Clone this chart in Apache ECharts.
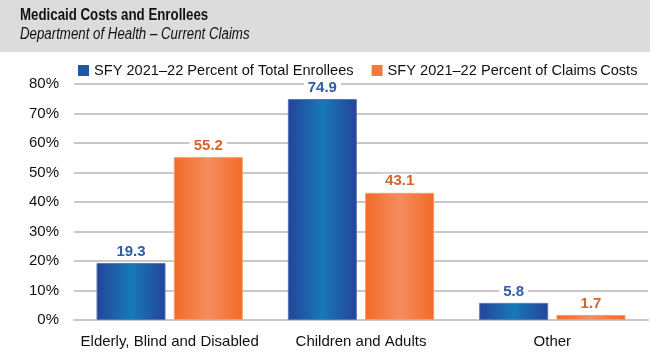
<!DOCTYPE html>
<html><head><meta charset="utf-8">
<script src="https://cdn.jsdelivr.net/npm/echarts@6/dist/echarts.min.js"></script>
<style>html,body{margin:0;padding:0;background:#fff}#c{width:650px;height:358px}</style>
</head><body><div id="c"></div>
<script>
const categories = ['Elderly, Blind and Disabled', 'Children and Adults', 'Other'];
const enrollees = [19.3, 74.9, 5.8];
const claims = [55.2, 43.1, 1.7];
const seriesNames = ['SFY 2021\u201322 Percent of Total Enrollees', 'SFY 2021\u201322 Percent of Claims Costs'];

const blueGrad = new echarts.graphic.LinearGradient(0, 0, 1, 0, [
  {offset: 0, color: '#24449a'}, {offset: 0.5, color: '#1779b8'}, {offset: 1, color: '#24449a'}]);
const orangeGrad = new echarts.graphic.LinearGradient(0, 0, 1, 0, [
  {offset: 0, color: '#f26a27'}, {offset: 0.5, color: '#f58d5e'}, {offset: 1, color: '#f26a27'}]);

const chart = echarts.init(document.getElementById('c'));
chart.setOption({
  animation: false,
  backgroundColor: '#fff',
  textStyle: {fontFamily: 'Liberation Sans, Arial, sans-serif'},
  graphic: [
    {type: 'rect', left: 0, top: 0, shape: {width: 650, height: 52}, style: {fill: '#dcdcdc'}, z: -1},
    {type: 'text', x: 20, y: 8, scaleX: 0.83, style: {text: 'Medicaid Costs and Enrollees', font: 'bold 16px Liberation Sans, Arial', fill: '#111'}},
    {type: 'text', x: 20, y: 27, scaleX: 0.83, style: {text: 'Department of Health \u2013 Current Claims', font: 'italic 16px Liberation Sans, Arial', fill: '#111'}}
  ],
  legend: {
    top: 58, left: 73, width: 577, icon: 'rect', itemWidth: 11, itemHeight: 11, itemGap: 18,
    textStyle: {fontSize: 14.6, color: '#111', fontFamily: 'Liberation Sans, Arial'},
    data: [
      {name: seriesNames[0], itemStyle: {color: '#1d5aa6', borderWidth: 0}},
      {name: seriesNames[1], itemStyle: {color: '#f37a3e', borderWidth: 0}}
    ]
  },
  grid: {left: 74, right: 2, top: 84, bottom: 38, containLabel: false},
  xAxis: {
    type: 'category', data: categories,
    axisLine: {lineStyle: {color: '#c8c8c8', width: 2}},
    axisTick: {show: false},
    axisLabel: {interval: 0, fontSize: 15, color: '#111', margin: 14}
  },
  yAxis: {
    type: 'value', min: 0, max: 80, interval: 10,
    axisLabel: {formatter: '{value}%', fontSize: 15, color: '#111', margin: 15},
    axisLine: {show: false}, axisTick: {show: false},
    splitLine: {lineStyle: {color: '#c8c8c8', width: 2}}
  },
  series: [
    {
      name: seriesNames[0], type: 'bar', data: enrollees, barWidth: 69, barGap: '12%',
      itemStyle: {color: blueGrad, borderColor: '#5a73b8', borderWidth: 1},
      label: {show: true, position: 'top', distance: 4, formatter: p => p.value.toFixed(1),
        color: '#2d5ca8', fontWeight: 'bold', fontSize: 15, backgroundColor: '#fff', padding: [0, 4]}
    },
    {
      name: seriesNames[1], type: 'bar', data: claims, barWidth: 69,
      itemStyle: {color: orangeGrad, borderColor: '#f79a6a', borderWidth: 1},
      label: {show: true, position: 'top', distance: 4, formatter: p => p.value.toFixed(1),
        color: '#d5642b', fontWeight: 'bold', fontSize: 15, backgroundColor: '#fff', padding: [0, 4]}
    }
  ]
});
</script></body></html>
